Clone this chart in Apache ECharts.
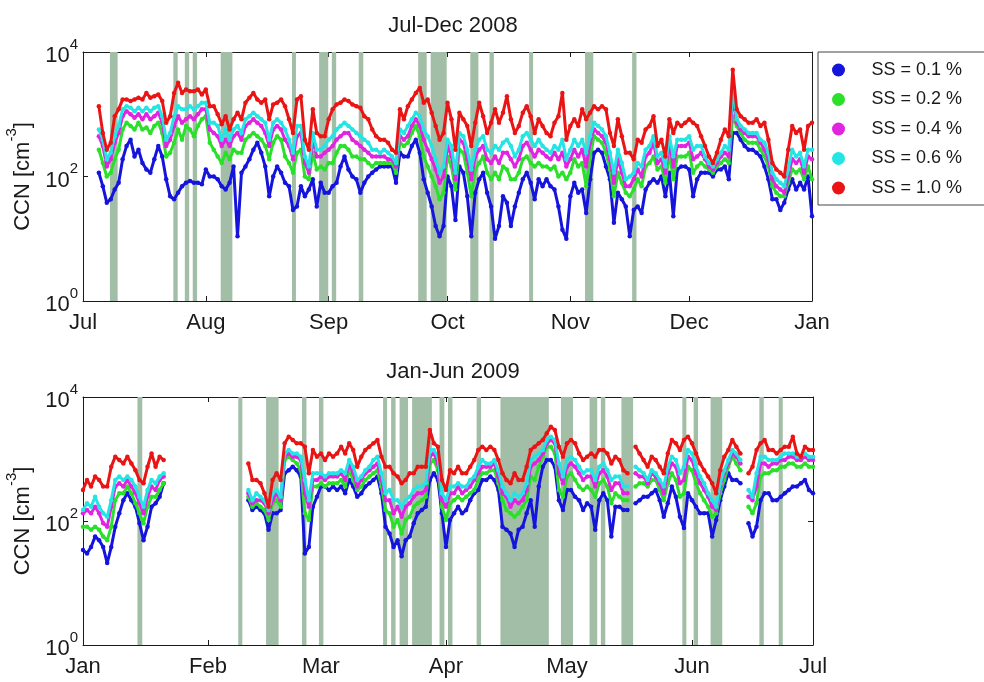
<!DOCTYPE html>
<html><head><meta charset="utf-8">
<script src="https://cdn.jsdelivr.net/npm/echarts@6/dist/echarts.min.js"></script>
<style>html,body{margin:0;padding:0;background:#fff}#c{width:984px;height:682px}</style>
</head><body><div id="c"></div>
<script>
// ---------- labels ----------
const seriesNames = ['SS = 0.1 %','SS = 0.2 %','SS = 0.4 %','SS = 0.6 %','SS = 1.0 %'];
const topTitle = 'Jul-Dec 2008';
const botTitle = 'Jan-Jun 2009';
const topMonthLabels = ['Jul','Aug','Sep','Oct','Nov','Dec','Jan'];
const topMonthDays = [0,31,62,92,123,153,184];
const botMonthLabels = ['Jan','Feb','Mar','Apr','May','Jun','Jul'];
const botMonthDays = [0,31,59,90,120,151,181];
const yTickValues = [1,100,10000];

// ---------- Jul-Dec 2008: daily values from day 4 (5 Jul) to day 184 (1 Jan) ----------
const topFirstDay = 4;
const top01 = [115,70,38,43,62,79,190,310,390,210, 270,165,130,115,190,310,210,90,48,43,
 55,70,79,85,79,79,75,130,100,100, 90,70,62,79,145,11,115,145,190,270,
 350,240,145,48,100,145,115,79,70,29, 33,70,48,62,90,33,79,55,55,70,
 79,145,210,130,100,90,55,79,100,115, 130,145,145,145,145,79,240,210,210,310,
 390,240,90,55,33,16,11,16,100,70, 20,145,115,48,11,55,90,115,55,33,
 10,16,48,38,16,33,55,90,115,79, 43,90,70,90,70,62,33,14,10,48,
 79,55,62,26,90,240,270,240,145,90, 18,55,43,33,11,29,33,26,62,79,
 90,79,100,48,115,23,130,145,145,130, 48,90,115,115,115,100,130,130,145,90,
 500,500,390,310,270,270,240,210,145,90, 43,43,29,38,62,90,62,79,62,100, 23];
const top02 = [270,165,100,115,190,270,570,730,650,570, 730,570,610,500,650,730,500,210,240,350,
 570,390,650,570,445,650,830,930,350,270, 210,165,240,190,270,240,240,390,445,500,
 445,390,310,190,350,445,390,210,165,115, 240,270,100,90,240,130,145,130,165,165,
 240,310,310,270,210,210,190,190,165,145, 165,165,165,165,165,115,350,310,350,500,
 650,445,210,145,100,70,43,55,210,145, 62,270,240,115,48,130,165,210,115,90,
 115,90,145,130,90,90,115,190,210,165, 145,165,145,145,130,145,100,115,90,115,
 190,145,165,70,210,445,390,350,240,130, 48,115,79,55,48,62,90,70,145,165,
 210,130,145,79,240,90,210,210,210,240, 115,145,165,145,130,115,145,165,190,165,
 930,650,500,390,350,350,350,270,210,145, 70,55,48,48,79,130,115,130,90,145, 90];
const top04 = [445,310,145,190,350,500,930,1120,1000,880, 1000,830,1000,830,930,1060,730,310,390,650,
 930,730,830,930,830,1000,1200,1200,570,500, 445,310,390,310,445,500,390,650,730,830,
 730,650,500,310,570,650,570,390,310,190, 445,500,165,115,390,210,210,240,270,310,
 390,445,500,500,390,350,310,270,240,210, 210,210,210,190,190,145,445,390,445,650,
 830,650,390,270,190,130,79,100,310,210, 90,390,350,190,90,210,270,310,190,165,
 210,165,240,240,190,145,190,310,350,270, 210,270,240,210,190,240,190,240,145,190,
 270,210,270,145,350,570,500,445,350,190, 79,190,115,70,70,90,130,100,210,240,
 350,165,190,115,350,145,310,310,310,350, 190,210,240,190,145,130,165,210,240,210,
 1950,730,570,500,445,445,445,350,270,190, 90,70,62,55,100,190,165,190,115,210, 190];
const top06 = [570,390,190,240,445,650,1200,1350,1270,1120, 1270,1120,1270,1120,1270,1350,930,390,500,930,
 1350,1200,1200,1350,1200,1350,1530,1530,730,730, 650,390,570,390,570,650,500,830,930,1060,
 930,830,730,390,730,830,730,570,390,240, 650,650,210,145,500,270,270,310,390,445,
 570,650,730,650,570,500,445,390,350,270, 270,240,270,240,210,165,570,500,650,830,
 1060,930,570,445,310,190,115,145,390,310, 115,500,445,270,130,270,390,445,270,240,
 310,270,350,390,310,210,270,445,500,390, 310,390,310,270,240,310,270,390,190,270,
 390,310,390,240,445,730,650,570,445,240, 115,270,165,90,100,115,165,145,270,310,
 445,210,240,145,445,210,390,390,390,445, 270,310,310,210,165,145,190,240,310,270,
 2800,830,650,570,500,500,500,390,350,240, 115,90,79,70,130,270,210,240,145,270, 270];
const top10 = [1350,500,270,350,930,1200,1730,1730,1630,1730, 1840,1730,2200,1840,1950,2080,1630,730,930,2200,
 3200,2200,2500,2350,2350,2500,2080,2500,1350,1350, 1000,690,930,570,830,1060,830,1530,1840,2200,
 1730,1530,1730,830,1440,1530,1730,1350,830,500, 1730,1950,390,270,1200,500,445,445,830,1200,
 1440,1530,1730,1630,1440,1350,1270,930,830,570, 445,390,390,350,270,240,1200,830,1350,1730,
 2200,2650,1530,1730,1060,650,390,500,1530,830, 270,1060,830,650,310,730,1530,930,500,730,
 1200,730,1060,1950,830,500,650,1060,1350,930, 500,830,650,500,445,730,930,2200,390,650,
 830,650,1200,830,1060,1350,1200,1350,1200,500, 310,830,445,240,240,190,390,350,570,650,
 930,310,390,210,830,500,730,650,730,830, 730,650,445,310,210,165,240,390,570,445,
 5200,1200,930,830,730,730,830,650,730,390, 165,130,115,100,270,650,500,570,270,650, 730];

// ---------- Jan-Jun 2009: daily values from day 0 (1 Jan) to day 181 (1 Jul) ----------
const botFirstDay = 0;
const N = null;
const bot01 = [34,30,38,56,49,38,21,38,81,133, 217,280,217,170,92,49,81,170,193,245,405,
 N,N,N,N,N,N,N,N,N,N,N,N,N,N,N,N,N,N,N,N,
 217,150,170,150,133,72,133,133,150,590, 660,750,660,520,30,38,170,245,360,360,
 316,360,316,360,280,460,360,245,280,360, 405,460,520,280,81,63,38,49,27,49,
 56,92,133,150,170,460,590,460,133,38, 104,133,170,133,150,217,280,316,460,460,
 520,460,316,81,72,63,38,72,81,133, 217,81,360,750,960,960,750,217,150,316,
 316,245,217,150,193,170,72,217,280,217, 56,170,170,150,150,N,193,217,245,245,
 280,316,217,117,193,360,245,117,77,280, 217,170,133,133,133,56,104,217,360,590,
 460,460,405,N,92,56,81,217,280,280, 217,217,245,280,316,360,360,405,460,316,280];
const bot02 = [81,81,72,81,72,56,49,81,217,280, 280,360,280,193,133,92,170,245,245,316,405,
 N,N,N,N,N,N,N,N,N,N,N,N,N,N,N,N,N,N,N,N,
 245,170,193,170,150,104,193,217,170,960, 1090,960,850,660,133,104,360,360,405,360,
 405,405,405,460,360,660,460,316,360,460, 520,590,660,360,150,133,81,104,63,104,
 117,170,193,217,245,850,960,660,170,104, 193,217,245,217,245,280,316,460,590,590,
 660,660,405,217,150,133,117,133,170,217, 520,460,750,1090,1580,1580,1230,316,245,520,
 590,460,360,316,360,316,245,405,460,360, 193,280,245,217,217,N,360,405,405,360,
 460,460,316,217,405,590,460,245,280,750, 660,405,280,217,170,117,133,280,460,750,
 1090,850,660,N,170,133,193,520,590,590, 660,660,750,750,850,850,750,750,850,750,750];
const bot04 = [133,150,133,170,133,92,81,170,360,405, 360,460,360,280,193,133,245,360,316,460,520,
 N,N,N,N,N,N,N,N,N,N,N,N,N,N,N,N,N,N,N,N,
 280,193,217,217,193,133,217,280,217,1090, 1230,1090,1090,960,280,170,460,460,520,460,
 520,520,520,590,460,850,590,360,460,590, 660,750,850,460,217,217,133,170,117,170,
 193,245,280,280,316,1090,1230,850,217,170, 280,280,360,280,316,360,460,590,750,750,
 750,850,520,280,245,170,217,193,217,316, 750,850,960,1230,1790,2030,1790,590,405,750,
 850,750,590,460,520,520,360,590,660,520, 316,405,405,280,280,N,590,520,520,405,
 590,520,405,280,590,850,750,405,460,1090, 960,590,405,316,245,170,150,360,590,850,
 1230,1090,850,N,245,217,360,850,850,750, 850,850,960,960,1090,1090,960,960,1090,960,960];
const bot06 = [150,193,170,245,170,133,117,217,460,520, 460,520,460,360,245,170,316,460,405,520,590,
 N,N,N,N,N,N,N,N,N,N,N,N,N,N,N,N,N,N,N,N,
 316,217,280,245,217,150,280,316,245,1230, 1400,1230,1230,1090,460,217,590,590,590,520,
 590,590,590,660,590,960,750,460,520,660, 750,960,1090,590,280,316,217,217,170,217,
 245,316,360,360,405,1400,1400,1090,280,217, 360,360,405,360,360,460,520,750,960,850,
 850,960,660,360,280,217,280,245,280,405, 960,1090,1230,1400,2030,2290,2030,850,520,960,
 1090,960,750,590,660,660,460,750,850,660, 460,520,520,360,360,N,750,660,590,460,
 660,590,460,360,750,1090,960,590,750,1400, 1230,750,520,405,280,217,170,405,660,960,
 1400,1230,960,N,316,245,590,1090,1090,960, 960,960,1090,1230,1230,1230,1090,1090,1230,1090,1090];
const bot10 = [316,460,360,520,460,360,360,750,1090,960, 850,1090,850,660,460,405,750,1230,750,1090,960,
 N,N,N,N,N,N,N,N,N,N,N,N,N,N,N,N,N,N,N,N,
 850,460,460,405,280,170,460,590,460,1790, 2290,2030,1790,1790,1580,590,1400,1090,1230,960,
 1230,1090,1230,1580,1230,1790,1400,750,1090,1400, 1580,1790,2030,1090,750,750,590,520,405,460,
 590,590,750,750,750,2940,1790,1580,460,316, 660,590,750,590,590,750,960,1400,1580,1400,
 1580,1400,960,590,460,405,590,460,460,750, 1400,1580,1790,2030,2600,3300,2940,1580,1090,1790,
 2030,1790,1230,960,1090,1230,1090,1400,1400,1230, 850,1090,960,660,590,N,1580,1230,960,750,
 1090,960,750,590,1230,2030,1790,1400,2030,2290, 1790,1230,850,660,520,405,280,660,1090,1400,
 2030,1580,1230,N,590,750,1400,1790,2030,1400, 1400,1230,1400,1580,1580,2290,1230,1090,1580,1400,1400];

// ---------- shaded periods [start day, end day] ----------
const topBands = [[6.8,8.75],[22.8,23.9],[25.7,26.8],[27.7,28.8],[34.75,37.7],[52.75,53.75],[59.6,61.9],
 [62.8,63.9],[69.6,70.75],[84.6,86.75],[87.75,91.8],[97.75,99.8],[102.6,103.7],[112.6,113.6],
 [126.7,128.8],[138.6,139.7]];
const botBands = [[13.5,14.7],[38.5,39.5],[45.4,48.5],[54.3,55.4],[58.5,59.6],[74.4,75.4],[76.4,77.5],
 [78.5,80.6],[81.6,86.5],[88.4,89.6],[90.5,91.6],[97.6,98.7],[103.5,115.5],[118.5,121.5],
 [125.6,127.5],[128.4,129.5],[133.5,136.4],[148.6,149.6],[151.4,152.5],[155.6,158.5],
 [167.7,168.8],[172.5,173.5]];

// ---------- build chart ----------
const FONT = '"Liberation Sans", Arial, Helvetica, sans-serif';
const INK = '#1a1a1a';
const colors = ['#1414dc','#2ae02a','#e024e0','#24e4e4','#ea1414'];
const bandColor = '#a3bea6';

function xAxisPair(grid, days, labels, max) {
  const base = {type:'value', gridIndex:grid, min:0, max:max, splitLine:{show:false},
    axisLine:{show:true, onZero:false, lineStyle:{color:INK, width:1}},
    axisTick:{show:true, inside:true, length:5, customValues:days, lineStyle:{color:INK}}};
  return [
    Object.assign({}, base, {position:'bottom',
      axisLabel:{show:true, customValues:days, margin:11, fontSize:22, color:INK, fontFamily:FONT,
        formatter: v => labels[days.indexOf(v)]}}),
    Object.assign({}, base, {position:'top', axisLabel:{show:false}})
  ];
}
function yAxisPair(grid) {
  const base = {type:'log', logBase:10, gridIndex:grid, min:1, max:10000, splitLine:{show:false},
    minorTick:{show:false}, minorSplitLine:{show:false},
    axisLine:{show:true, onZero:false, lineStyle:{color:INK, width:1}},
    axisTick:{show:true, inside:true, length:5, customValues:yTickValues, lineStyle:{color:INK}}};
  return [
    Object.assign({}, base, {position:'left',
      name:'{n|CCN [cm}{s|-3}{n|]}', nameLocation:'middle', nameGap:46,
      nameTextStyle:{rich:{n:{fontSize:22, fontFamily:FONT, color:INK, lineHeight:30, verticalAlign:'bottom'},
                           s:{fontSize:15, fontFamily:FONT, color:INK, lineHeight:15, verticalAlign:'top'}}},
      axisLabel:{show:true, customValues:yTickValues, margin:5,
        formatter: v => '{b|10}{s|' + Math.round(Math.log10(v)) + '}',
        rich:{b:{fontSize:22, fontFamily:FONT, color:INK, lineHeight:30, verticalAlign:'bottom'},
              s:{fontSize:15, fontFamily:FONT, color:INK, lineHeight:15, verticalAlign:'top'}}}}),
    Object.assign({}, base, {position:'right', axisLabel:{show:false}})
  ];
}

const xAxes = [...xAxisPair(0, topMonthDays, topMonthLabels, 184), ...xAxisPair(1, botMonthDays, botMonthLabels, 181)];
const yAxes = [...yAxisPair(0), ...yAxisPair(1)];

const panels = [
  {x:0, y:0, first:topFirstDay, data:[top01,top02,top04,top06,top10], bands:topBands},
  {x:2, y:2, first:botFirstDay, data:[bot01,bot02,bot04,bot06,bot10], bands:botBands}
];
const series = [];
panels.forEach(p => {
  series.push({type:'line', xAxisIndex:p.x, yAxisIndex:p.y, data:[], silent:true, z:1,
    markArea:{silent:true, itemStyle:{color:bandColor, opacity:1},
      data:p.bands.map(b => [{xAxis:b[0]},{xAxis:b[1]}])}});
  p.data.forEach((arr, k) => {
    series.push({type:'line', name:seriesNames[k], xAxisIndex:p.x, yAxisIndex:p.y, z:3+k,
      data: arr.map((v,i) => [p.first + i, v]),
      connectNulls:false, symbol:'circle', symbolSize:4.5, showSymbol:true,
      lineStyle:{width:3, color:colors[k]}, itemStyle:{color:colors[k]}});
  });
});

const chart = echarts.init(document.getElementById('c'), null, {renderer:'canvas'});
chart.setOption({
  animation:false,
  backgroundColor:'#ffffff',
  title:[
    {text:topTitle, left:448, top:10, textAlign:'center', textStyle:{fontSize:22, fontWeight:'normal', fontFamily:FONT, color:INK}},
    {text:botTitle, left:448, top:356, textAlign:'center', textStyle:{fontSize:22, fontWeight:'normal', fontFamily:FONT, color:INK}}
  ],
  legend:{orient:'vertical', left:818, top:52, padding:[8,70,7,14], itemWidth:40, itemHeight:13, itemGap:9.5,
    borderColor:'#444', borderWidth:1, backgroundColor:'#fff', selectedMode:false,
    textStyle:{fontSize:18, fontFamily:FONT, color:INK, lineHeight:20, padding:[0,0,0,8]},
    data:seriesNames.map((n,k) => ({name:n, icon:'circle', itemStyle:{color:colors[k]}}))},
  grid:[
    {left:83, top:52, width:729, height:249, containLabel:false, outerBoundsMode:'none'},
    {left:83, top:397, width:730, height:248, containLabel:false, outerBoundsMode:'none'}
  ],
  xAxis:xAxes,
  yAxis:yAxes,
  series:series
});
</script></body></html>
